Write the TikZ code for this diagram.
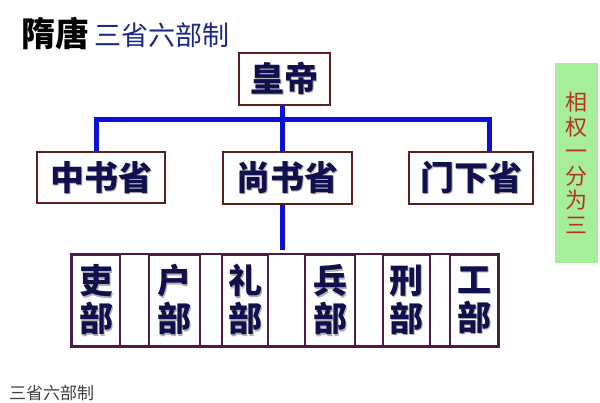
\documentclass[tikz,border=0pt]{standalone}
\usepackage{fontspec}
\setmainfont{Noto Sans CJK SC}
\definecolor{inkblue}{HTML}{10104E}
\definecolor{titleblue}{HTML}{1A2A82}
\definecolor{linkblue}{HTML}{0A10D6}
\definecolor{framebrown}{HTML}{5C1F1F}
\definecolor{framepurple}{HTML}{4B1B4B}
\definecolor{notegreen}{HTML}{A6EE9C}
\definecolor{notered}{HTML}{B5341A}
\newcommand\shadowed[1]{\makebox[0pt][l]{\kern1.3pt\raisebox{-1.3pt}{\textcolor{black!30}{#1}}}#1}
\begin{document}
\begin{tikzpicture}[x=1pt, y=-1pt,
    office/.style={draw=framebrown, line width=2pt, fill=white, inner sep=0pt,
        text=inkblue, font=\fontsize{34}{34}\selectfont\bfseries},
    ministry/.style={draw=framepurple, line width=1.6pt, inner sep=0pt,
        minimum height=91pt, text=inkblue, align=center,
        font=\fontsize{34}{38}\selectfont\bfseries},
    link/.style={draw=linkblue, line width=5pt}]
    \useasboundingbox[fill=white] (0,0) rectangle (600,403);
    % title
    \node[anchor=west, inner sep=0pt, font=\fontsize{34}{34}\selectfont\bfseries] (title) at (21,34) {隋唐};
    \node[anchor=west, inner sep=0pt, text=titleblue, font=\fontsize{27}{27}\selectfont] (subtitle) at (94,35) {三省六部制};
    % emperor and the three departments
    \node[office, minimum width=91pt, minimum height=52pt] (emperor) at (284.5,79) {\shadowed{皇帝}};
    \node[office, minimum width=128pt, minimum height=51pt] (zhongshu) at (101,178) {\shadowed{中书省}};
    \node[office, minimum width=129pt, minimum height=52pt] (shangshu) at (287.5,178) {\shadowed{尚书省}};
    \node[office, minimum width=124pt, minimum height=52pt] (menxia) at (471,178) {\shadowed{门下省}};
    \coordinate (barL) at (96,120);
    \coordinate (barR) at (489,120);
    \coordinate (spine) at (282,250);
    \draw[link] (zhongshu.north -| barL) -- (barL) -- (barR) -- (menxia.north -| barR);
    \draw[link] (emperor.south -| spine) -- (shangshu.north -| spine);
    \draw[link] (shangshu.south -| spine) -- (spine);
    % six ministries
    \foreach \l/\r/\c/\n in {72/120/吏/li, 149/200/户/hu, 222/268/礼/rites,
        305/355/兵/bing, 383/430/刑/xing, 450/498/工/gong}
        \node[ministry, minimum width={(\r-\l)*1pt}] (\n) at ({(\l+\r)/2},300.5) {\shadowed{\c}\\\shadowed{部}};
    \draw[draw=framepurple, line width=2.6pt] (li.north west) rectangle (gong.south east);
    % side note
    \node[fill=notegreen, minimum width=43pt, minimum height=200pt, inner sep=0pt,
        text=notered, align=center, font=\fontsize{22}{24.5}\selectfont] (note) at (576.5,163)
        {相\\权\\一\\分\\为\\三};
    % caption
    \node[anchor=west, inner sep=0pt, text=black!75, font=\fontsize{17}{17}\selectfont] (caption) at (9,393) {三省六部制};
\end{tikzpicture}
\end{document}
